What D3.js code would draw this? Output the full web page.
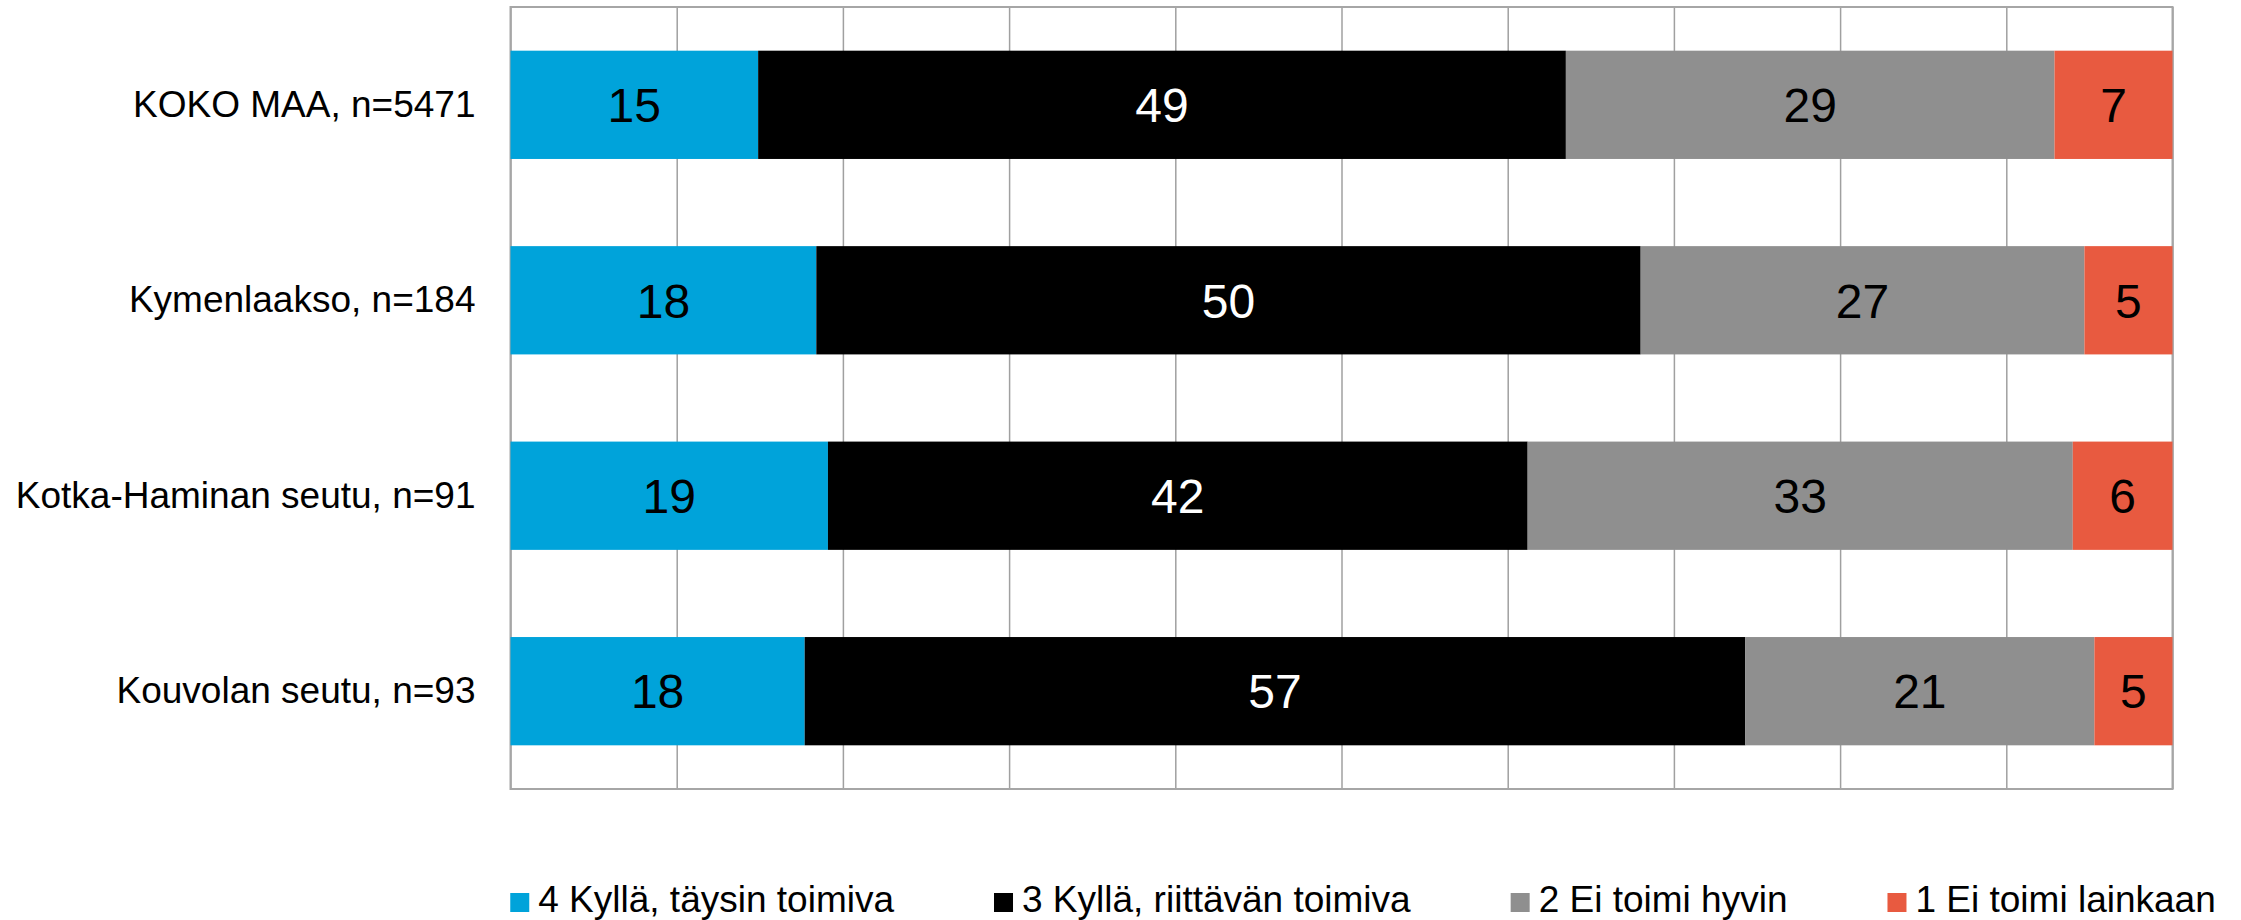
<!DOCTYPE html>
<html>
<head>
<meta charset="utf-8">
<script src="https://cdn.jsdelivr.net/npm/d3@7"></script>
<style>
  html, body { margin: 0; padding: 0; background: #fff; }
  svg { display: block; }
  text { font-family: "Liberation Sans", Arial, sans-serif; }
</style>
</head>
<body>
<svg id="chart" width="2241" height="920"></svg>
<script>
// ---- data ----
const categories = ["KOKO MAA, n=5471", "Kymenlaakso, n=184", "Kotka-Haminan seutu, n=91", "Kouvolan seutu, n=93"];
const seriesNames = ["4 Kyllä, täysin toimiva", "3 Kyllä, riittävän toimiva", "2 Ei toimi hyvin", "1 Ei toimi lainkaan"];
const s4 = [14.9, 18.4, 19.1, 17.7];
const s3 = [48.6, 49.6, 42.1, 56.6];
const s2 = [29.4, 26.7, 32.8, 21.0];
const s1 = [7.1, 5.3, 6.0, 4.7];
const xTicks = [0, 10, 20, 30, 40, 50, 60, 70, 80, 90, 100];
const colors = ["#00A3DA", "#000000", "#8F8F8F", "#E85A40"];
const labelColors = ["#000", "#fff", "#000", "#000"];

const seriesValues = [s4, s3, s2, s1];

// ---- layout ----
const W = 2241, H = 920;
const margin = { top: 7, right: 68.5, bottom: 131, left: 510.5 };
const svg = d3.select("#chart");
const innerW = W - margin.left - margin.right;
const innerH = H - margin.top - margin.bottom;

const x = d3.scaleLinear().domain([0, 100]).range([margin.left, margin.left + innerW]);
const y = d3.scaleBand().domain(categories).range([margin.top, margin.top + innerH])
  .paddingInner(0.446).paddingOuter(0.2235);

// gridlines
const xAxis = d3.axisBottom(x).tickValues(xTicks).tickSize(-innerH).tickFormat("");
const gx = svg.append("g").attr("transform", `translate(0,${margin.top + innerH})`).call(xAxis);
gx.select(".domain").remove();
gx.selectAll(".tick line").attr("stroke", "#a0a0a0").attr("stroke-width", 1.5);

// plot border
svg.append("rect")
  .attr("x", margin.left).attr("y", margin.top)
  .attr("width", innerW).attr("height", innerH)
  .attr("fill", "none").attr("stroke", "#a6a6a6").attr("stroke-width", 2);

// stacked rows
const rows = categories.map((c, i) => {
  let acc = 0;
  return seriesValues.map((vals, k) => {
    const seg = { cat: c, k, v: vals[i], x0: acc, x1: acc + vals[i] };
    acc += vals[i];
    return seg;
  });
}).flat();

svg.append("g").selectAll("rect").data(rows).join("rect")
  .attr("x", d => x(d.x0))
  .attr("y", d => y(d.cat))
  .attr("width", d => x(d.x1) - x(d.x0))
  .attr("height", y.bandwidth())
  .attr("fill", d => colors[d.k]);

svg.append("g").selectAll("text").data(rows).join("text")
  .attr("x", d => (x(d.x0) + x(d.x1)) / 2)
  .attr("y", d => y(d.cat) + y.bandwidth() / 2)
  .attr("dy", "0.36em")
  .attr("text-anchor", "middle")
  .attr("font-size", 48)
  .attr("fill", d => labelColors[d.k])
  .text(d => Math.round(d.v));

// category labels
const yAxis = d3.axisLeft(y).tickSize(0).tickPadding(35);
const gy = svg.append("g").attr("transform", `translate(${margin.left},0)`).call(yAxis);
gy.select(".domain").remove();
gy.selectAll(".tick text")
  .attr("font-size", 37)
  .attr("font-family", "'Liberation Sans', Arial, sans-serif")
  .attr("fill", "#000");

// legend
const legend = svg.append("g");
const sq = 19, gapSq = 9, gapItem = 100, legendBaseline = 912;
let cx = 0;
seriesNames.forEach((name, k) => {
  const g = legend.append("g");
  g.append("rect").attr("x", 0).attr("y", legendBaseline - sq).attr("width", sq).attr("height", sq)
    .attr("fill", colors[k]);
  const t = g.append("text").attr("x", sq + gapSq).attr("y", legendBaseline)
    .attr("font-size", 37).attr("fill", "#000").text(name);
  const w = sq + gapSq + t.node().getComputedTextLength();
  g.attr("transform", `translate(${cx},0)`);
  cx += w + gapItem;
});
const totalW = cx - gapItem;
const legendCenter = 1363;
legend.attr("transform", `translate(${legendCenter - totalW / 2},0)`);
</script>
</body>
</html>
